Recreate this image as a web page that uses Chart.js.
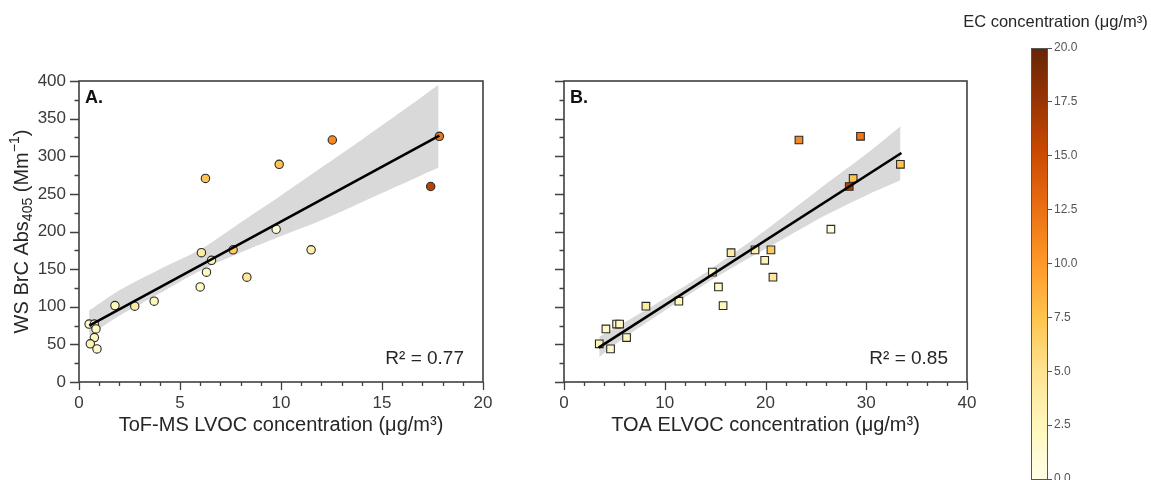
<!DOCTYPE html>
<html><head><meta charset="utf-8">
<script src="https://cdn.jsdelivr.net/npm/chart.js@4.4.1/dist/chart.umd.min.js"></script>
<style>
html,body{margin:0;padding:0;background:#fff;width:1151px;height:480px;overflow:hidden}
canvas{position:absolute;top:0}
</style></head><body>
<canvas id="cA" width="500" height="480" style="left:0"></canvas>
<canvas id="cB" width="500" height="480" style="left:500px"></canvas>
<canvas id="cC" width="211" height="480" style="left:940px"></canvas>
<script>
// ---- data (one entry per sample) ----
const lvoc  = [0.50,0.76,0.84,0.76,0.56,0.89,1.78,2.76,3.72,6.00,6.06,6.31,6.56,6.26,7.63,8.31,9.76,9.91,11.49,12.54,17.41,17.84];
const elvoc = [5.22,5.52,4.16,6.21,3.50,4.62,15.79,8.13,11.40,15.33,16.58,14.73,19.92,28.70,20.54,20.74,26.49,33.39,18.96,23.32,28.31,29.43];
const brc   = [77,77,70.5,59,50.7,44,101.5,100.8,107.4,126.3,171.9,146,161.7,270.5,175.6,139.3,203,289.3,175.6,321.6,259.8,326.5];
const ec    = [1.5,2,2,2.5,3,1.5,2.5,4,2.5,2,4,2,3,7.5,7,4.5,0.8,7.5,3.5,11,16,12];

// regression lines (end points) and confidence bands
const fitA_x = [0.51, 17.84];
const fitA_y = [74.9, 327.3];
const fitB_x = [3.44, 33.49];
const fitB_y = [45.6, 304.3];
const bandA_x  = [0.5, 2, 4, 6, 8, 10, 12, 14, 16, 17.8];
const bandA_hi = [95, 122, 150, 176, 212, 248, 285, 322, 360, 395];
const bandA_lo = [62, 88, 118, 148, 172, 194, 215, 239, 263, 285];
const bandB_x  = [3.5, 6, 10, 14, 18, 22, 26, 30, 33.4];
const bandB_hi = [60, 79, 111, 145, 182, 222, 263, 303, 340];
const bandB_lo = [33, 59, 95, 130, 162, 192, 222, 248, 268];

// tick labels
const xTicksA = [0, 5, 10, 15, 20];
const xTicksB = [0, 10, 20, 30, 40];
const yTicks  = [0, 50, 100, 150, 200, 250, 300, 350, 400];
const cbTicks = [0, 2.5, 5, 7.5, 10, 12.5, 15, 17.5, 20];

const r2A = 'R² = 0.77';
const r2B = 'R² = 0.85';

// ---- colour map (YlOrBr) ----
const ylorbr = ['#ffffe5','#fff7bc','#fee391','#fec44f','#fe9929','#ec7014','#cc4c02','#993404','#662506'];
function hex(h){return [parseInt(h.slice(1,3),16),parseInt(h.slice(3,5),16),parseInt(h.slice(5,7),16)];}
function cmap(t){
  t = Math.max(0, Math.min(1, t));
  const n = ylorbr.length - 1;
  const i = Math.min(n - 1, Math.floor(t * n));
  const f = t * n - i;
  const a = hex(ylorbr[i]), b = hex(ylorbr[i + 1]);
  return 'rgb(' + a.map((v, k) => Math.round(v + (b[k] - v) * f)).join(',') + ')';
}
const ecMax = cbTicks[cbTicks.length - 1];

const FONT = '"Liberation Sans", Arial, Helvetica, sans-serif';
const TXT = '#262626', TICKC = '#3a3a3a', SPINE = '#404040';

function decoPlugin(xMajor, yMajor, panelLabel, r2, drawYTitle){
  return {
    id: 'deco',
    afterDraw(chart){
      const ctx = chart.ctx;
      const {left, right, top, bottom} = chart.chartArea;
      const xs = chart.scales.x, ys = chart.scales.y;
      ctx.save();
      ctx.strokeStyle = SPINE;
      ctx.lineWidth = 1.3;
      ctx.beginPath();
      xs.ticks.forEach(t => {
        const p = Math.round(xs.getPixelForValue(t.value)) + 0.5;
        const L = xMajor.includes(t.value) ? 8 : 4;
        ctx.moveTo(p, bottom); ctx.lineTo(p, bottom + L);
      });
      ys.ticks.forEach(t => {
        const p = Math.round(ys.getPixelForValue(t.value)) + 0.5;
        const L = yMajor.includes(t.value) ? 9 : 4.5;
        ctx.moveTo(left, p); ctx.lineTo(left - L, p);
      });
      ctx.stroke();
      ctx.lineWidth = 1.6;
      ctx.strokeRect(left, top, right - left, bottom - top);
      // panel label
      ctx.fillStyle = '#111';
      ctx.font = 'bold 18px ' + FONT;
      ctx.textBaseline = 'alphabetic';
      ctx.textAlign = 'left';
      ctx.fillText(panelLabel, left + 6, top + 22);
      // R^2
      ctx.fillStyle = TXT;
      ctx.font = '19px ' + FONT;
      ctx.textAlign = 'right';
      ctx.fillText(r2, right - 19, bottom - 18.5);
      // y title with sub/superscript
      if (drawYTitle){
        const segs = [
          {t:'WS BrC Abs', s:20, dy:0},
          {t:'405', s:14, dy:5},
          {t:' (Mm', s:20, dy:0},
          {t:'\u22121', s:14, dy:-8},
          {t:')', s:20, dy:0}
        ];
        let total = 0;
        segs.forEach(g => { ctx.font = g.s + 'px ' + FONT; g.w = ctx.measureText(g.t).width; total += g.w; });
        ctx.translate(22.5, (top + bottom) / 2);
        ctx.rotate(-Math.PI / 2);
        ctx.textAlign = 'left';
        ctx.textBaseline = 'middle';
        let x = -total / 2;
        segs.forEach(g => {
          ctx.font = g.s + 'px ' + FONT;
          ctx.fillText(g.t, x, g.dy + (g.s < 20 ? 1 : 0));
          x += g.w;
        });
      }
      ctx.restore();
    }
  };
}

function panel(canvasId, xs, xMax, xStep, xMajor, xTitle, marker, radius, fitX, fitY, bX, bHi, bLo, label, r2, showYLabels, yWidth, padRight){
  const pts = xs.map((x, i) => ({x: x, y: brc[i]}));
  return new Chart(document.getElementById(canvasId), {
    type: 'scatter',
    data: {
      datasets: [
        {type:'line', data: fitX.map((x,i)=>({x:x, y:fitY[i]})), borderColor:'#000', borderWidth:2.6, pointRadius:0, fill:false, order:0},
        {type:'scatter', data: pts, pointStyle: marker, pointRadius: radius, backgroundColor: ec.map(v => cmap(v / ecMax)), borderColor:'#2a2a2a', borderWidth:1.1, order:1},
        {type:'line', data: bX.map((x,i)=>({x:x, y:bHi[i]})), borderColor:'rgba(0,0,0,0)', borderWidth:0, pointRadius:0, fill:'+1', backgroundColor:'#d9d9d9', tension:0.3, order:2},
        {type:'line', data: bX.map((x,i)=>({x:x, y:bLo[i]})), borderColor:'rgba(0,0,0,0)', borderWidth:0, pointRadius:0, fill:false, tension:0.3, order:3}
      ]
    },
    options: {
      responsive:false, animation:false, devicePixelRatio:1, events:[],
      layout:{padding:{left:0, top:81, right:padRight, bottom:0}},
      plugins:{legend:{display:false}, tooltip:{enabled:false}},
      scales:{
        x:{type:'linear', min:0, max:xMax, border:{display:false}, grid:{display:false, drawTicks:false},
          ticks:{stepSize:xStep, autoSkip:false, maxRotation:0, padding:11, color:TICKC, font:{family:FONT, size:17},
            callback: v => xMajor.includes(v) ? String(v) : ''},
          title:{display:true, text:xTitle, color:TXT, font:{family:FONT, size:20}, padding:{top:0, bottom:42.5}},
          afterFit(s){ s.height = 98; s.paddingLeft = 0; s.paddingRight = 0; }
        },
        y:{type:'linear', min:0, max:400, border:{display:false}, grid:{display:false, drawTicks:false},
          ticks:{display:showYLabels, stepSize:25, autoSkip:false, padding:13, color:TICKC, font:{family:FONT, size:17},
            callback: v => yTicks.includes(v) ? String(v) : ''},
          afterFit(s){ s.width = yWidth; s.paddingTop = 0; s.paddingBottom = 0; }
        }
      }
    },
    plugins:[decoPlugin(xMajor, yTicks, label, r2, showYLabels)]
  });
}

panel('cA', lvoc, 20, 1, xTicksA, 'ToF-MS LVOC concentration (\u03bcg/m\u00b3)', 'circle', 4.2,
      fitA_x, fitA_y, bandA_x, bandA_hi, bandA_lo, 'A.', r2A, true, 79, 17);
panel('cB', elvoc, 40, 2, xTicksB, 'TOA ELVOC concentration (\u03bcg/m\u00b3)', 'rect', 5.4,
      fitB_x, fitB_y, bandB_x, bandB_hi, bandB_lo, 'B.', r2B, false, 64, 33);

// ---- colour bar ----
new Chart(document.getElementById('cC'), {
  type:'scatter',
  data:{datasets:[]},
  options:{
    responsive:false, animation:false, devicePixelRatio:1, events:[],
    layout:{padding:{left:91, top:48, right:0, bottom:1}},
    plugins:{legend:{display:false}, tooltip:{enabled:false}},
    scales:{
      x:{display:false, min:0, max:1},
      y:{position:'right', min:cbTicks[0], max:ecMax, border:{display:false},
        grid:{display:true, drawOnChartArea:false, drawTicks:true, tickLength:4, tickColor:'#555', tickWidth:1},
        ticks:{stepSize:2.5, padding:2, color:'#555', font:{family:FONT, size:12}, callback: v => Number(v).toFixed(1)},
        afterFit(s){ s.width = 103; s.paddingTop = 0; s.paddingBottom = 0; }
      }
    }
  },
  plugins:[{
    id:'cbar',
    beforeDatasetsDraw(chart){
      const {ctx, chartArea:{left,right,top,bottom}} = chart;
      const g = ctx.createLinearGradient(0, bottom, 0, top);
      ylorbr.forEach((c, i) => g.addColorStop(i / (ylorbr.length - 1), c));
      ctx.save();
      ctx.fillStyle = g;
      ctx.fillRect(left, top, right - left, bottom - top);
      ctx.strokeStyle = '#555';
      ctx.lineWidth = 1;
      ctx.strokeRect(left + 0.5, top + 0.5, right - left - 1, bottom - top);
      ctx.fillStyle = TXT;
      ctx.font = '16.5px ' + FONT;
      ctx.textAlign = 'center';
      ctx.textBaseline = 'alphabetic';
      ctx.fillText('EC concentration (\u03bcg/m\u00b3)', 115.5, 26.5);
      ctx.restore();
    }
  }]
});
</script>
</body></html>
